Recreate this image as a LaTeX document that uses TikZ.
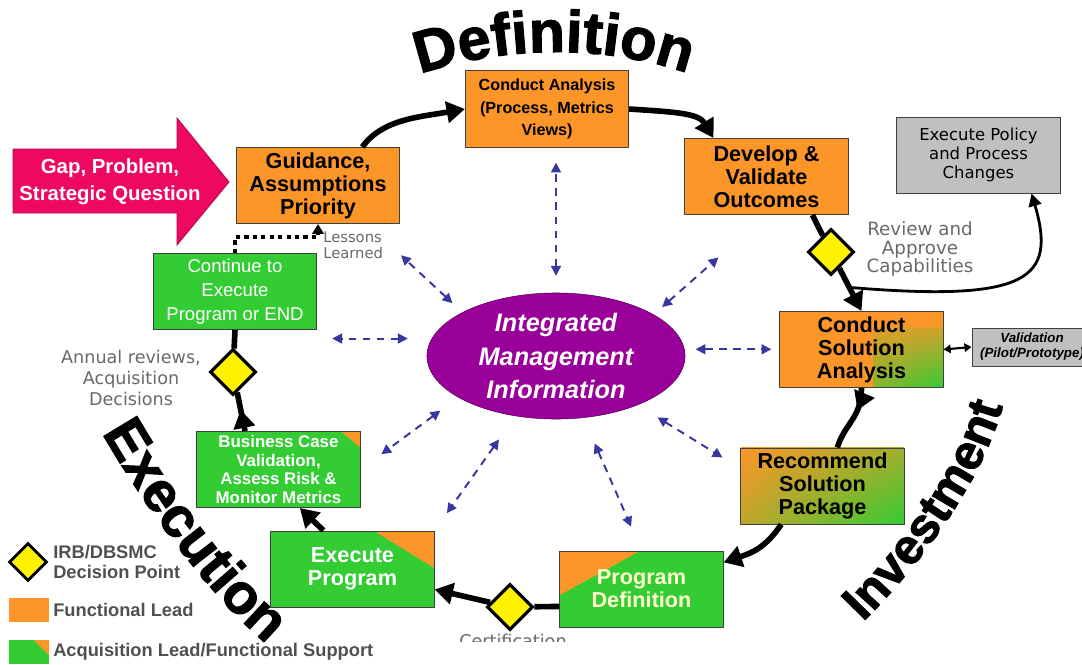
\documentclass[tikz,border=0pt]{standalone}
\usepackage{fontspec}
\setmainfont{Liberation Sans}
\newfontfamily\verdana{DejaVu Sans}
\newfontfamily\heavyfont[FakeBold=2]{Liberation Sans Bold}
\usetikzlibrary{shapes.geometric,arrows.meta,calc,shadings,decorations.text,decorations.markings}

\definecolor{boxorange}{RGB}{252,150,40}
\definecolor{boxgreen}{RGB}{51,204,51}
\definecolor{boxgray}{RGB}{192,192,192}
\definecolor{mgmtpurple}{RGB}{153,0,153}
\definecolor{gappink}{RGB}{238,8,98}
\definecolor{linkblue}{RGB}{55,55,160}
\definecolor{notegray}{RGB}{105,105,105}
\definecolor{legendgray}{RGB}{80,80,80}
\definecolor{cream}{RGB}{255,255,205}

\begin{document}
\begin{tikzpicture}[x=0.025cm, y=-0.025cm,
    box/.style={rectangle, draw=black!75, line width=0.7pt, minimum width=4.08cm, minimum height=1.9cm, align=center, inner sep=1pt},
    lead/.style={box, fill=boxorange, font=\bfseries\fontsize{15.4}{16.4}\selectfont},
    acq/.style={box, fill=boxgreen, text=white, font=\bfseries\fontsize{15.4}{16.4}\selectfont},
    cornertip/.style 2 args={path picture={\fill[boxorange] (path picture bounding box.north east) -- ++(-#1,0) -- ++(#1,#2) -- cycle;}},
    decision/.style={diamond, draw=black, line width=2.2pt, fill=yellow, minimum size=1.15cm, inner sep=0pt},
    note/.style={text=notegray, font=\verdana\fontsize{13}{13.2}\selectfont, align=center, inner sep=0pt},
    legend/.style={anchor=west, align=left, inner sep=0pt, text=legendgray, font=\bfseries\fontsize{13}{14.2}\selectfont},
    trunk/.style={line width=4pt},
    flow/.style={trunk, -{Triangle[length=13pt,width=15pt]}},
    midflow/.style={trunk, postaction={decorate}, decoration={markings, mark=at position #1 with {\arrow{Triangle[length=13pt,width=15pt]}}}},
    thinflow/.style={line width=2pt, -{Triangle[length=9pt,width=9pt]}},
    link/.style={draw=linkblue, line width=1.4pt, dash pattern=on 5.5pt off 4.5pt, {Triangle[length=7pt,width=7pt]}-{Triangle[length=7pt,width=7pt]}},
    bigword/.style 2 args={decorate, decoration={text along path, text={|\heavyfont\fontsize{#1}{#1}\selectfont|#2}}}
]
\useasboundingbox (0,0) rectangle (1082,664);

% Entry arrow
\fill[gappink, draw=gappink!75!black, line width=0.6pt] (13,149) -- (177,149) -- (177,118) -- (229,182) -- (177,245) -- (177,213) -- (13,213) -- cycle;
\node[text=white, font=\bfseries\fontsize{14.5}{19.5}\selectfont, align=center] (gap) at (110,182) {Gap, Problem,\\Strategic Question};

% Definition boxes
\node[lead] (guide) at (318,185.5) {Guidance,\\Assumptions\\Priority};
\node[lead, font=\bfseries\fontsize{11.5}{16}\selectfont] (ca) at (547,109) {Conduct Analysis\\(Process, Metrics\\Views)};
\node[lead] (dev) at (766.5,176.5) {Develop \&\\Validate\\Outcomes};
\node[box, fill=boxgray, font=\verdana\fontsize{11.7}{13.2}\selectfont] (policy) at (978.5,155) {Execute Policy\\and Process\\Changes};

% Investment boxes
\node[lead, path picture={\shade[upper left=boxorange, upper right=boxorange, lower left=boxorange, lower right=boxgreen] ($(path picture bounding box.south east)+(-70,0)$) rectangle ($(path picture bounding box.south east)+(0,-60)$);}] (csa) at (861.5,349.5) {Conduct\\Solution\\Analysis};
\node[box, fill=boxgray, minimum width=3cm, minimum height=0.95cm, font=\bfseries\itshape\fontsize{9.5}{10.7}\selectfont] (valid) at (1032,347) {Validation\\(Pilot/Prototype)};
\node[lead, path picture={\shade[upper left=boxorange, upper right=boxorange!55!boxgreen, lower left=boxorange!70!boxgreen, lower right=boxgreen] (path picture bounding box.south west) rectangle (path picture bounding box.north east);}] (rec) at (822.5,486) {Recommend\\Solution\\Package};
\node[acq, text=cream, path picture={\fill[boxorange] (path picture bounding box.north west) -- ++(80,0) -- ++(-80,44) -- cycle;}] (pd) at (641.5,589) {Program\\Definition};

% Execution boxes
\node[acq, cornertip={60}{37}] (exe) at (352.5,569) {Execute\\Program};
\node[acq, cornertip={19}{16}, font=\bfseries\fontsize{12}{13.2}\selectfont] (biz) at (278.5,469.5) {Business Case\\Validation,\\Assess Risk \&\\Monitor Metrics};
\node[acq, font=\fontsize{13.2}{17}\selectfont] (cont) at (235,291.5) {Continue to\\Execute\\Program or END};

% Centre
\node[ellipse, draw=mgmtpurple!60!black, fill=mgmtpurple, minimum width=6.45cm, minimum height=3.15cm, inner sep=0pt, text=white, align=center, font=\bfseries\itshape\fontsize{18}{23.7}\selectfont] (imi) at (556,356) {Integrated\\Management\\Information};

% Decision points
\node[decision] (review) at (831,252) {};
\node[decision] (cert) at (510,607) {};
\node[decision] (annual) at (233,372) {};

% Cycle arrows - definition
\draw[flow] (guide.41) .. controls +(20,-28) and +(-45,8) .. (ca.west);
\draw[flow] (ca.east) .. controls +(45,3) and +(-15,-25) .. (dev.144);

% Cycle arrows - investment
\draw[trunk] (dev.-40) -- (review);
\draw[flow] (review) -- (csa.north);
\coordinate (fork) at ($(review)!0.6!(csa.north)$);
\draw[thinflow] (fork) .. controls +(180,15) and +(25,85) .. (policy.-36);
\draw[{Triangle[length=5pt,width=6pt]}-{Triangle[length=5pt,width=6pt]}, line width=1.5pt] (csa.east) -- (valid.west);
\draw[midflow=0.35] (csa.south) .. controls +(0,30) and +(8,-25) .. (rec.69);
\draw[flow] (rec.-137) .. controls +(-15,22) and +(30,-10) .. (pd.18);

% Cycle arrows - execution
\draw[trunk] (pd.192) -- (cert);
\draw[flow] (cert) -- (exe.-14);
\draw[flow] (exe.127) -- (biz.-61);
\draw[midflow=0.55] (biz.131) -- (annual);
\draw[trunk] (annual) -- (cont.south);

% Lessons learned
\draw[line width=3pt, dash pattern=on 3pt off 3pt, -{Triangle[length=7pt,width=8pt]}] (cont.north) -- ++(0,-16) -| (guide.south);
\node[note, anchor=west, align=left, font=\verdana\fontsize{10.5}{11.5}\selectfont] (lessons) at (323,245) {Lessons\\Learned};

% Information links
\draw[link, shorten <=12pt, shorten >=10.7pt] (imi.north) -- (imi.north |- ca.south);
\draw[link, shorten <=9.6pt, shorten >=32.7pt] (imi.155) -- (guide.-38);
\draw[link, shorten <=8pt, shorten >=45.6pt] (imi.23) -- (dev.south);
\draw[link, shorten <=17pt, shorten >=10.7pt] (imi.172) -- (imi.172 -| cont.east);
\draw[link, shorten <=7.8pt, shorten >=5.7pt] (imi.3) -- (imi.3 -| csa.west);
\draw[link, shorten <=15.8pt, shorten >=18.3pt] (imi.203) -- (biz.east);
\draw[link, shorten <=20.3pt, shorten >=15.1pt] (imi.236) -- (exe.north east);
\draw[link, shorten <=19.8pt, shorten >=18.5pt] (imi.-66) -- (pd.north);
\draw[link, shorten <=16.6pt, shorten >=15pt] (imi.-31) -- (rec.168);

% Gate notes
\node[note] (reviewnote) at (920,249) {Review and\\Approve\\Capabilities};
\node[note, font=\verdana\fontsize{12.5}{14.8}\selectfont] (annualnote) at (131,378) {Annual reviews,\\Acquisition\\Decisions};
\node[note, anchor=base, font=\verdana\fontsize{12.5}{14}\selectfont] (certnote) at (513,647) {Certification};
\fill[white] (433,642) rectangle (1082,664);

% Phase names
\path[bigword={42}{Definition}] (420,74) .. controls (503,46) and (600,44) .. (684,72) -- ++(40,14);
\path[bigword={35}{Investment}] (863,622) .. controls (920,565) and (982,482) .. (1003,405) -- ++(8,-35);
\path[bigword={40}{Execution}] (102,433) .. controls (142,502) and (207,594) .. (268,645) -- ++(30,25);

% Legend
\node[decision, line width=2pt, minimum size=0.95cm] (legdecision) at (28,562) {};
\node[legend] (legdecisiontext) at (53,562) {IRB/DBSMC\\Decision Point};
\node[fill=boxorange, minimum width=1cm, minimum height=0.6cm, inner sep=0pt] (leglead) at (29,610) {};
\node[legend] (legleadtext) at (53,610) {Functional Lead};
\node[fill=boxgreen, minimum width=1cm, minimum height=0.6cm, inner sep=0pt, cornertip={15}{15}] (legacq) at (29,652) {};
\node[legend] (legacqtext) at (53,652) {Acquisition Lead/Functional Support};

\end{tikzpicture}
\end{document}
